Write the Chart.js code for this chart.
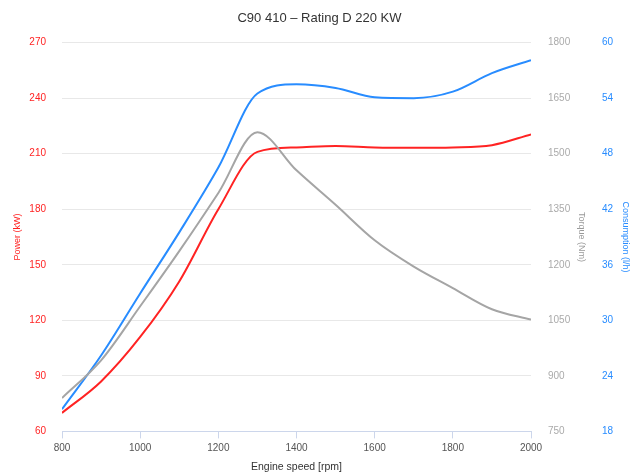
<!DOCTYPE html>
<html lang="en">
<head>
<meta charset="utf-8">
<title>C90 410 - Rating D 220 KW</title>
<style>
body { margin: 0; background: #fff; }
.chart-container { width: 639px; height: 475px; }
</style>
</head>
<body>
<div class="chart-container">
<canvas id="engineChart"></canvas>
</div>
<script src="https://cdn.jsdelivr.net/npm/chart.js@4.4.1/dist/chart.umd.min.js"></script>
<script>
// engine speed [rpm]
const rpm = [800, 900, 1000, 1100, 1200, 1300, 1400, 1500, 1600, 1700, 1800, 1900, 2000];
// power [kW]
const power = [70, 87, 111, 141, 180, 211, 213.4, 214.2, 213.4, 213.2, 213.4, 214.6, 220.4];
// torque [Nm]
const torque = [840, 942, 1088, 1237, 1394, 1558, 1455, 1362, 1266, 1195, 1137, 1080, 1052];
// consumption [l/h]
const consumption = [20.4, 26.2, 32.9, 39.5, 46.5, 54.5, 55.5, 55.1, 54.1, 54.0, 54.7, 56.7, 58.1];

const chartTitle = 'C90 410 \u2013 Rating D 220 KW';

const fontFamily = '"Liberation Sans", Arial, sans-serif';
const redColor = 'rgb(255, 35, 35)';
const grayColor = 'rgb(165, 165, 165)';
const blueColor = 'rgb(40, 140, 255)';

function toPoints(values){
    return rpm.map((r, i) => ({x: r, y: values[i]}));
}

// plain numbers, no thousands separator
const plainLabel = (value) => String(value);

function setupChart(){
    const ctx = document.getElementById('engineChart').getContext('2d');
    const config = {
        type: 'line',
        data: {
            datasets: [{
                label: 'Torque (Nm)',
                data: toPoints(torque),
                borderColor: grayColor,
                yAxisID: 'yTorque'
            },{
                label: 'Power (kW)',
                data: toPoints(power),
                borderColor: redColor,
                yAxisID: 'yPower'
            },{
                label: 'Consumption (l/h)',
                data: toPoints(consumption),
                borderColor: blueColor,
                yAxisID: 'yCons'
            }]
        },
        options: {
            responsive: true,
            maintainAspectRatio: false,
            animation: false,
            layout: {
                padding: {left: 8, right: 8, top: 0, bottom: 2}
            },
            elements: {
                point: { radius: 0 },
                line: { borderWidth: 2, cubicInterpolationMode: 'monotone', fill: false }
            },
            scales: {
                x: {
                    type: 'linear',
                    min: 800,
                    max: 2000,
                    ticks: {
                        stepSize: 200,
                        color: '#555',
                        padding: 4,
                        callback: plainLabel,
                        font: { family: fontFamily, size: 10 }
                    },
                    grid: {
                        drawOnChartArea: false,
                        drawTicks: true,
                        tickLength: 7,
                        color: '#ccd6eb'
                    },
                    border: { color: '#ccd6eb' },
                    title: {
                        display: true,
                        text: 'Engine speed [rpm]',
                        color: '#333',
                        padding: {top: 2, bottom: 0},
                        font: { family: fontFamily, size: 10.5 }
                    }
                },
                yPower: {
                    position: 'left',
                    min: 60,
                    max: 270,
                    afterFit: (scale) => { scale.width = 54; },
                    ticks: {
                        stepSize: 30,
                        color: redColor,
                        padding: 16,
                        callback: plainLabel,
                        font: { family: fontFamily, size: 10 }
                    },
                    grid: { color: '#e8e8e8', drawTicks: false },
                    border: { display: false },
                    title: {
                        display: true,
                        text: 'Power (kW)',
                        color: redColor,
                        padding: {top: 4.6, bottom: 0},
                        font: { family: fontFamily, size: 9 }
                    }
                },
                yTorque: {
                    position: 'right',
                    min: 750,
                    max: 1800,
                    afterFit: (scale) => { scale.width = 56; },
                    ticks: {
                        stepSize: 150,
                        color: '#aaa',
                        padding: 17,
                        callback: plainLabel,
                        font: { family: fontFamily, size: 10 }
                    },
                    grid: { drawOnChartArea: false, drawTicks: false },
                    border: { display: false },
                    title: {
                        display: true,
                        text: 'Torque (Nm)',
                        color: '#999',
                        padding: {top: 0.6, bottom: 0},
                        font: { family: fontFamily, size: 9 }
                    }
                },
                yCons: {
                    position: 'right',
                    min: 18,
                    max: 60,
                    afterFit: (scale) => { scale.width = 44; },
                    ticks: {
                        stepSize: 6,
                        color: blueColor,
                        padding: 15,
                        callback: plainLabel,
                        font: { family: fontFamily, size: 10 }
                    },
                    grid: { drawOnChartArea: false, drawTicks: false },
                    border: { display: false },
                    title: {
                        display: true,
                        text: 'Consumption (l/h)',
                        color: blueColor,
                        padding: {top: 0, bottom: 0},
                        font: { family: fontFamily, size: 9 }
                    }
                }
            },
            plugins: {
                legend: { display: false },
                tooltip: { enabled: false },
                title: {
                    display: true,
                    text: chartTitle,
                    color: '#333',
                    padding: {top: 11, bottom: 16},
                    font: { family: fontFamily, size: 13, weight: 'normal' }
                }
            }
        }
    };
    window.engineChart = new Chart(ctx, config);
}

setupChart();
</script>
</body>
</html>
